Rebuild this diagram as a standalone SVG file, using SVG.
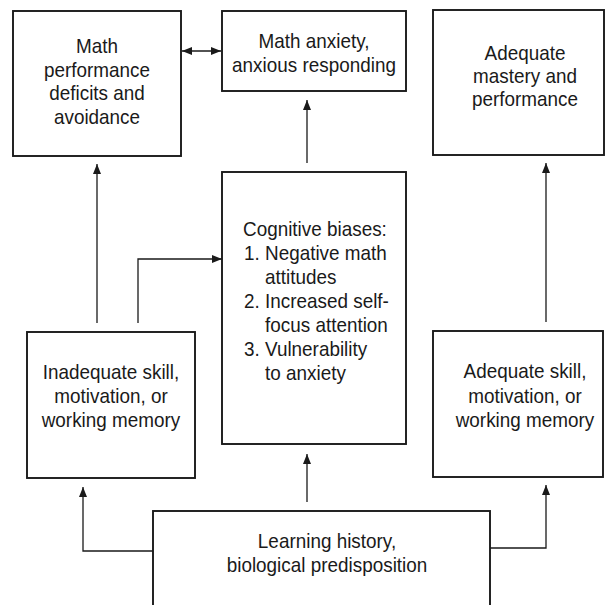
<svg xmlns="http://www.w3.org/2000/svg" width="605" height="605" viewBox="0 0 605 605">
<style>
.box{fill:#fff;stroke:#1a1a1a;stroke-width:1.9}
.c{fill:none;stroke:#1a1a1a;stroke-width:1.3}
text{font-family:"Liberation Sans",Arial,sans-serif;font-size:21px;fill:#1a1a1a}
.m{text-anchor:middle}
</style>
<defs>
<marker id="ah" viewBox="0 0 10 8" refX="10" refY="4" markerWidth="10" markerHeight="8" markerUnits="userSpaceOnUse" orient="auto-start-reverse">
<path d="M0,0 L10,4 L0,8 Z" fill="#1a1a1a"/>
</marker>
</defs>
<rect width="605" height="605" fill="#fff"/>
<g id="connectors">
<line class="c" x1="182" y1="51" x2="221" y2="51" marker-start="url(#ah)" marker-end="url(#ah)"/>
<line class="c" x1="307" y1="163" x2="307" y2="100" marker-end="url(#ah)"/>
<line class="c" x1="97" y1="323" x2="97" y2="164" marker-end="url(#ah)"/>
<polyline class="c" points="138,323 138,259 222,259" marker-end="url(#ah)"/>
<line class="c" x1="546" y1="322" x2="546" y2="163" marker-end="url(#ah)"/>
<line class="c" x1="307" y1="502" x2="307" y2="454" marker-end="url(#ah)"/>
<polyline class="c" points="153,551 83,551 83,487" marker-end="url(#ah)"/>
<polyline class="c" points="490,548 546,548 546,485" marker-end="url(#ah)"/>
</g>
<g id="n1">
<rect class="box" x="13" y="11" width="168" height="145"/>
<text class="m" transform="translate(97,53) scale(0.9,1)">Math</text>
<text class="m" transform="translate(97,77) scale(0.9,1)">performance</text>
<text class="m" transform="translate(97,100) scale(0.9,1)">deficits and</text>
<text class="m" transform="translate(97,124) scale(0.9,1)">avoidance</text>
</g>
<g id="n2">
<rect class="box" x="222" y="11" width="184" height="80"/>
<text class="m" transform="translate(314,48) scale(0.9,1)">Math anxiety,</text>
<text class="m" transform="translate(314,72) scale(0.9,1)">anxious responding</text>
</g>
<g id="n3">
<rect class="box" x="433" y="10" width="171" height="145"/>
<text class="m" transform="translate(525,60) scale(0.9,1)">Adequate</text>
<text class="m" transform="translate(525,83) scale(0.9,1)">mastery and</text>
<text class="m" transform="translate(525,106) scale(0.9,1)">performance</text>
</g>
<g id="n4">
<rect class="box" x="222" y="172" width="184" height="272"/>
<text transform="translate(243,236) scale(0.9,1)">Cognitive biases:</text>
<text transform="translate(244,260) scale(0.9,1)">1. Negative math</text>
<text transform="translate(265,284) scale(0.9,1)">attitudes</text>
<text transform="translate(244,308) scale(0.9,1)">2. Increased self-</text>
<text transform="translate(265,332) scale(0.9,1)">focus attention</text>
<text transform="translate(244,356) scale(0.9,1)">3. Vulnerability</text>
<text transform="translate(265,380) scale(0.9,1)">to anxiety</text>
</g>
<g id="n5">
<rect class="box" x="27" y="332" width="168" height="146"/>
<text class="m" transform="translate(111,379) scale(0.9,1)">Inadequate skill,</text>
<text class="m" transform="translate(111,403) scale(0.9,1)">motivation, or</text>
<text class="m" transform="translate(111,427) scale(0.9,1)">working memory</text>
</g>
<g id="n6">
<rect class="box" x="433" y="331" width="170" height="146"/>
<text class="m" transform="translate(525,378) scale(0.9,1)">Adequate skill,</text>
<text class="m" transform="translate(525,403) scale(0.9,1)">motivation, or</text>
<text class="m" transform="translate(525,427) scale(0.9,1)">working memory</text>
</g>
<g id="n7">
<rect class="box" x="153" y="511" width="337" height="110"/>
<text class="m" transform="translate(327,548) scale(0.9,1)">Learning history,</text>
<text class="m" transform="translate(327,572) scale(0.9,1)">biological predisposition</text>
</g>
</svg>
